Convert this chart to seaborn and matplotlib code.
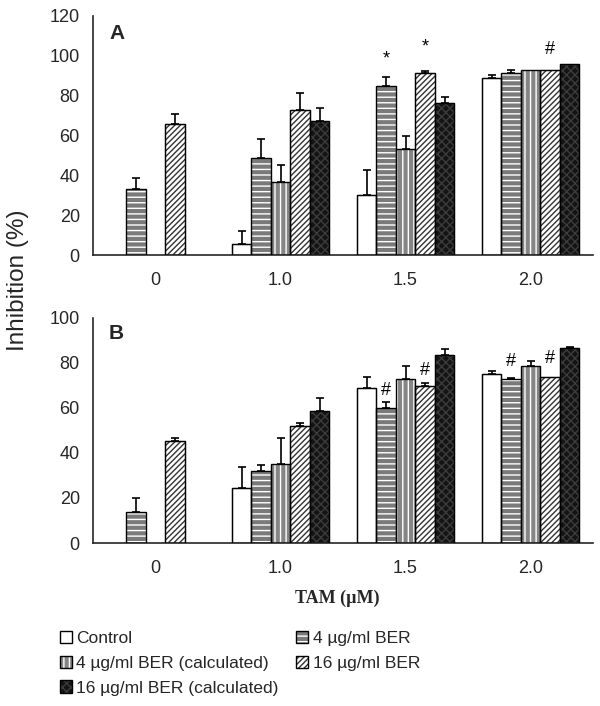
import numpy as np
import pandas as pd
import matplotlib
matplotlib.use("Agg")
import matplotlib.pyplot as plt
import seaborn as sns
from matplotlib.patches import Patch

# ---- data ----
TAM = ["0", "1.0", "1.5", "2.0"]
GROUPS = ["Control", "4 µg/ml BER", "4 µg/ml BER (calculated)",
          "16 µg/ml BER", "16 µg/ml BER (calculated)"]

# panel A (mean, upper error)
a_control = [np.nan, 5.5, 30, 89]
a_control_err = [0, 6.5, 12.5, 1.5]
a_ber4 = [33, 48.5, 85, 91.5]
a_ber4_err = [5.5, 9.5, 4.5, 1.5]
a_ber4_calc = [np.nan, 36.5, 53, 93]
a_ber4_calc_err = [0, 8.5, 6.5, 0]
a_ber16 = [66, 73, 91.5, 93]
a_ber16_err = [5, 8.5, 0.8, 0]
a_ber16_calc = [np.nan, 67.5, 76.5, 96]
a_ber16_calc_err = [0, 6.5, 3, 0]

# panel B
b_control = [np.nan, 24.5, 69, 75]
b_control_err = [0, 9.5, 5, 1.5]
b_ber4 = [14, 32, 60, 73]
b_ber4_err = [6, 2.7, 2.7, 0.4]
b_ber4_calc = [np.nan, 35, 73, 78.5]
b_ber4_calc_err = [0, 11.5, 5.5, 2.2]
b_ber16 = [45.5, 52, 70, 74]
b_ber16_err = [1.2, 1.3, 1.3, 0]
b_ber16_calc = [np.nan, 58.5, 83.5, 86.5]
b_ber16_calc_err = [0, 5.8, 2.8, 0.4]

# significance marks: (tam, group, symbol, y)
a_marks = [("1.5", "4 µg/ml BER", "*", 94), ("1.5", "16 µg/ml BER", "*", 100),
           ("2.0", "16 µg/ml BER", "#", 99)]
b_marks = [("1.5", "4 µg/ml BER", "#", 64), ("1.5", "16 µg/ml BER", "#", 73),
           ("2.0", "4 µg/ml BER", "#", 77), ("2.0", "16 µg/ml BER", "#", 78)]

STYLE = {
    "Control": dict(face="white", hatch=None, hc="black"),
    "4 µg/ml BER": dict(face="#7a7a7a", hatch="---", hc="white"),
    "4 µg/ml BER (calculated)": dict(face="#858585", hatch="|||", hc="white"),
    "16 µg/ml BER": dict(face="white", hatch="//////", hc="#333333"),
    "16 µg/ml BER (calculated)": dict(face="#141414", hatch="xxxx", hc="#3c3c3c"),
}


def make_frame(series, errs):
    rows = []
    for g, vals, ee in zip(GROUPS, series, errs):
        for t, v, e in zip(TAM, vals, ee):
            if not np.isnan(v):
                rows.append(dict(tam=t, group=g, value=v, err=e))
    return pd.DataFrame(rows)


def draw_panel(ax, df, ymax, letter, marks):
    sns.barplot(data=df, x="tam", y="value", hue="group", order=TAM,
                hue_order=GROUPS, errorbar=None, width=0.78, gap=0,
                legend=False, ax=ax)
    for g, cont in zip(GROUPS, ax.containers):
        st = STYLE[g]
        sub = df[df["group"] == g]
        for bar in cont:
            bar.set_facecolor(st["face"])
            bar.set_edgecolor(st["hc"] if st["hatch"] else "black")
            if st["hatch"]:
                bar.set_hatch(st["hatch"])
            bar.set_linewidth(0.8)
            # outline drawn separately so hatch colour can differ
            ax.add_patch(plt.Rectangle((bar.get_x(), 0), bar.get_width(),
                                       bar.get_height(), fill=False,
                                       edgecolor="black", lw=1.0, zorder=3))
            xc = bar.get_x() + bar.get_width() / 2
            t = TAM[int(round(xc))]
            e = sub.loc[sub["tam"] == t, "err"].values[0]
            if e > 0:
                ax.errorbar(xc, bar.get_height(), yerr=[[0], [e]], fmt="none",
                            ecolor="black", elinewidth=1.2, capsize=3,
                            capthick=1.2, zorder=4)
            for mt, mg, sym, my in marks:
                if mt == t and mg == g:
                    ax.text(xc, my, sym, ha="center", va="bottom",
                            fontsize=13, color="black")
    ax.set_ylim(0, ymax)
    ax.set_xlim(-0.5, 3.5)
    ax.set_yticks(np.arange(0, ymax + 1, 20))
    ax.set_xticks(np.arange(-0.5, 4, 1), minor=True)
    ax.set_xticks(range(4))
    ax.set_xticklabels(TAM)
    ax.tick_params(axis="x", which="major", length=0, pad=12, labelsize=13)
    ax.tick_params(axis="x", which="minor", length=6, width=1.2, direction="out")
    ax.tick_params(axis="y", length=6, width=1.2, direction="out", labelsize=13)
    ax.set_xlabel("")
    ax.set_ylabel("")
    sns.despine(ax=ax)
    for s in ["left", "bottom"]:
        ax.spines[s].set_linewidth(1.2)
    ax.text(0.032, 0.905, letter, transform=ax.transAxes, fontsize=15,
            fontweight="bold")


sns.set_style("white")
plt.rcParams["font.family"] = ["Liberation Sans", "DejaVu Sans"]
plt.rcParams["hatch.linewidth"] = 1.0

fig = plt.figure(figsize=(6, 7.06), dpi=100)
ax_a = fig.add_axes([93 / 600, 1 - 255 / 706, 500 / 600, 239 / 706])
ax_b = fig.add_axes([93 / 600, 1 - 543 / 706, 500 / 600, 225 / 706])

df_a = make_frame([a_control, a_ber4, a_ber4_calc, a_ber16, a_ber16_calc],
                  [a_control_err, a_ber4_err, a_ber4_calc_err, a_ber16_err,
                   a_ber16_calc_err])
df_b = make_frame([b_control, b_ber4, b_ber4_calc, b_ber16, b_ber16_calc],
                  [b_control_err, b_ber4_err, b_ber4_calc_err, b_ber16_err,
                   b_ber16_calc_err])

draw_panel(ax_a, df_a, 120, "A", a_marks)
draw_panel(ax_b, df_b, 100, "B", b_marks)

fig.text(18 / 600, 1 - 280 / 706, "Inhibition (%)", rotation=90,
         ha="center", va="center", fontsize=17.5)
fig.text(337 / 600, 1 - 598 / 706, "TAM (µM)", ha="center", va="center",
         fontsize=13, fontweight="bold", family=["Liberation Serif"])

# legend swatches: hatched fill plus a black outline on top
handles = {}
for g in GROUPS:
    st = STYLE[g]
    fill = Patch(facecolor=st["face"], hatch=st["hatch"],
                 edgecolor=st["hc"] if st["hatch"] else "black", lw=0)
    edge = Patch(fill=False, edgecolor="black", lw=1.0)
    handles[g] = (fill, edge)
order = [GROUPS[0], GROUPS[2], GROUPS[4], GROUPS[1], GROUPS[3]]
fig.legend([handles[g] for g in order], order, loc="upper left",
           bbox_to_anchor=(60 / 600, 1 - 631 / 706), ncol=2, frameon=False,
           fontsize=12.5, handlelength=0.7, handleheight=0.7, borderpad=0,
           borderaxespad=0, handletextpad=0.25, columnspacing=1.0,
           labelspacing=0.55)

fig.savefig("out.png", dpi=100)
